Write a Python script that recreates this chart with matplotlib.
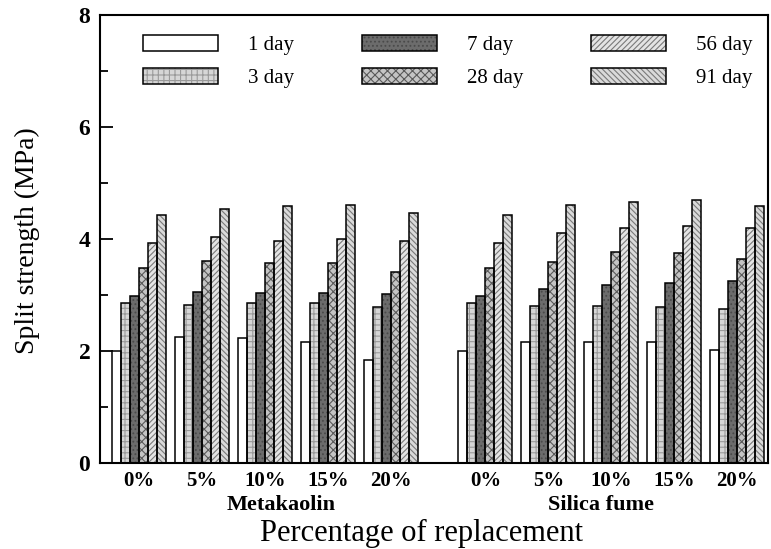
# %%
import numpy as np
import matplotlib
matplotlib.use('Agg')
import matplotlib.pyplot as plt
from matplotlib.ticker import MultipleLocator

plt.rcParams['font.family'] = ['Liberation Serif', 'DejaVu Serif']
plt.rcParams['hatch.linewidth'] = 0.8

# %%
# Split strength (MPa), one list per curing age
ages = ['1 day', '3 day', '7 day', '28 day', '56 day', '91 day']
pct_labels = ['0%', '5%', '10%', '15%', '20%']
materials = ['Metakaolin', 'Silica fume']

metakaolin = {
    '1 day':  [2.00, 2.25, 2.23, 2.16, 1.83],
    '3 day':  [2.85, 2.82, 2.86, 2.86, 2.79],
    '7 day':  [2.98, 3.05, 3.03, 3.03, 3.02],
    '28 day': [3.47, 3.61, 3.57, 3.57, 3.41],
    '56 day': [3.92, 4.04, 3.96, 3.99, 3.96],
    '91 day': [4.42, 4.53, 4.58, 4.60, 4.46],
}
silica_fume = {
    '1 day':  [2.00, 2.15, 2.15, 2.16, 2.02],
    '3 day':  [2.85, 2.80, 2.80, 2.78, 2.74],
    '7 day':  [2.98, 3.11, 3.17, 3.21, 3.24],
    '28 day': [3.47, 3.59, 3.77, 3.75, 3.63],
    '56 day': [3.92, 4.10, 4.19, 4.23, 4.19],
    '91 day': [4.42, 4.60, 4.65, 4.69, 4.58],
}

# face colour, hatch, hatch colour per age
styles = {
    '1 day':  ('white', '', 'black'),
    '3 day':  ('#d6d6d6', '+++', '#9a9a9a'),
    '7 day':  ('#6c6c6c', '....', '#4a4a4a'),
    '28 day': ('#c4c4c4', 'xxxx', '#5a5a5a'),
    '56 day': ('#e4e4e4', '//////', '#7a7a7a'),
    '91 day': ('#dadada', '\\\\\\\\\\\\', '#7a7a7a'),
}

# %%
mk_pos = np.arange(len(pct_labels))
sf_pos = np.arange(len(pct_labels)) + 5.5
width = 1 / 7

fig = plt.figure(figsize=(7.71, 5.49), dpi=100)
ax = fig.add_axes([0.1297, 0.1572, 0.8663, 0.8158])

handles = []
for k, age in enumerate(ages):
    face, hatch, hcol = styles[age]
    x = np.concatenate([mk_pos, sf_pos]) + (k - 2.5) * width
    y = np.array(metakaolin[age] + silica_fume[age])
    b1 = ax.bar(x, y, width, color=face, hatch=hatch, edgecolor=hcol,
                linewidth=0, zorder=2)
    b2 = ax.bar(x, y, width, fill=False, edgecolor='black',
                linewidth=1.1, zorder=3)
    handles.append((b1, b2))

ax.set_xlim(-0.619, 9.984)
ax.set_ylim(0, 8)
ax.yaxis.set_major_locator(MultipleLocator(2))
ax.yaxis.set_minor_locator(MultipleLocator(1))
ax.tick_params(axis='y', which='major', direction='in', length=9.5,
               width=1.3, pad=7, labelsize=17)
ax.tick_params(axis='y', which='minor', direction='in', length=6, width=1.3)
for t in ax.get_yticklabels():
    t.set_fontweight('bold')

ax.set_xticks(np.concatenate([mk_pos, sf_pos]))
ax.set_xticklabels(pct_labels * 2, fontsize=15, fontweight='bold')
ax.tick_params(axis='x', length=0, pad=6)

for s in ax.spines.values():
    s.set_linewidth(1.5)

trans = ax.get_xaxis_transform()
ax.text(mk_pos.mean() + 0.26, -0.095, materials[0], transform=trans,
        ha='center', va='center', fontsize=16, fontweight='bold')
ax.text(sf_pos.mean() - 0.16, -0.095, materials[1], transform=trans,
        ha='center', va='center', fontsize=16, fontweight='bold')
ax.text(0.482, -0.158, 'Percentage of replacement', transform=ax.transAxes,
        ha='center', va='center', fontsize=22)
ax.text(-0.108, 0.495, 'Split strength (MPa)', transform=ax.transAxes,
        ha='center', va='center', rotation=90, fontsize=20)

ax.legend(handles, ages, ncol=3, loc='upper left',
          bbox_to_anchor=(0.064, 0.955), frameon=False, fontsize=15,
          borderpad=0, borderaxespad=0, handlelength=3.6, handleheight=0.8,
          handletextpad=1.45, columnspacing=3.25, labelspacing=0.6)

fig.savefig('out.png', dpi=100)
